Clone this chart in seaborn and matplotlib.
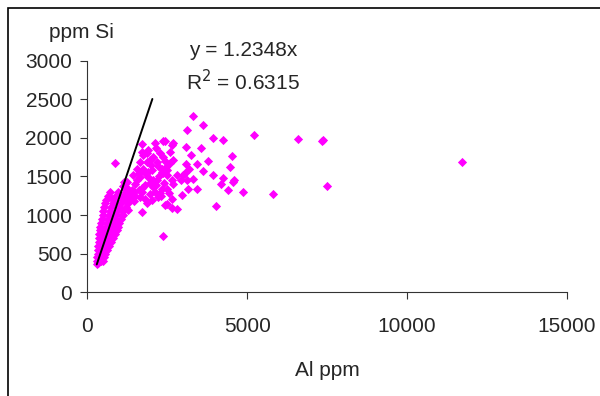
import matplotlib
matplotlib.use("Agg")
import matplotlib.pyplot as plt
from matplotlib.patches import Rectangle
import seaborn as sns
import pandas as pd

# scattered part of the cloud (Al ppm, Si ppm)
al_cloud = [11731, 6598, 7330, 7380, 5221, 7496, 5816, 3312, 3625, 3124,
            3919, 4232, 2416, 2686, 2645, 3083, 3543, 2582, 3240, 4523,
            2363, 2426, 2676, 2582, 3781, 3083, 3437, 3186, 4460, 2322,
            2479, 2373, 2498, 3625, 3052, 2999, 2792, 3312, 3919, 4232,
            2917, 3105, 2635, 2686, 4585, 4545, 4169, 3155, 3418, 4407,
            4858, 2498, 2560, 2269, 2948, 2635, 2479, 2635, 2792, 4022,
            2373, 1696, 2113, 2373, 1903, 2269, 1747, 2060, 1643, 1853,
            2166, 1540, 1747, 2009, 2322, 1434, 1643, 1903, 2166, 1227,
            1487, 1800, 2060, 2322, 1174, 1383, 1696, 1956, 2216, 1070,
            1277, 1800, 2009, 1643, 1277, 1715, 1120, 2426, 860, 704,
            914, 1850, 2150, 2000, 1600, 2250, 1950, 1700, 2400, 2100,
            1500, 1850, 2300, 1150, 1250, 1100, 1950, 2200, 1550, 1800,
            2050, 1350, 1600, 2450, 1700, 1900, 2150, 1450]
si_cloud = [1684, 1990, 1959, 1977, 2042, 1373, 1273, 2292, 2172, 2107,
            2003, 1972, 1959, 1939, 1913, 1882, 1869, 1817, 1774, 1761,
            1748, 1696, 1709, 1670, 1696, 1658, 1667, 1602, 1623, 1602,
            1580, 1545, 1524, 1567, 1545, 1515, 1515, 1472, 1515, 1485,
            1460, 1450, 1450, 1408, 1460, 1428, 1408, 1334, 1343, 1325,
            1299, 1343, 1286, 1286, 1256, 1213, 1140, 1097, 1084, 1114,
            725, 1926, 1933, 1959, 1839, 1804, 1774, 1752, 1687, 1687,
            1687, 1602, 1602, 1580, 1558, 1515, 1493, 1493, 1450, 1428,
            1408, 1386, 1364, 1343, 1343, 1321, 1299, 1278, 1234, 1234,
            1213, 1213, 1191, 1234, 1062, 1040, 997, 1127, 1675, 1234,
            1256, 1800, 1870, 1650, 1550, 1500, 1420, 1350, 1420, 1300,
            1250, 1150, 1250, 1430, 1350, 1380, 1720, 1640, 1460, 1540,
            1460, 1270, 1330, 1620, 1820, 1560, 1390, 1180]

# dense low band
al_band = [290, 330, 300, 360, 420, 470, 310, 380, 450, 520,
           320, 400, 480, 560, 330, 420, 520, 610, 340, 450, 560, 670,
           350, 470, 600, 730, 360, 500, 650, 790, 375, 530, 700, 850,
           385, 560, 740, 910, 400, 590, 780, 960, 420, 620, 820, 1000,
           440, 650, 860, 1040, 470, 680, 890, 1080, 500, 710, 920, 1120,
           530, 750, 980, 1190, 560, 800, 1040, 1270, 590, 840, 1100, 1340,
           630, 880, 1150, 1400, 720, 960, 1200, 1440]
si_band = [370, 380, 400, 400, 400, 400, 450, 450, 450, 450,
           500, 500, 500, 500, 550, 550, 550, 550, 600, 600, 600, 600,
           650, 650, 650, 650, 700, 700, 700, 700, 750, 750, 750, 750,
           800, 800, 800, 800, 850, 850, 850, 850, 900, 900, 900, 900,
           950, 950, 950, 950, 1000, 1000, 1000, 1000, 1050, 1050, 1050, 1050,
           1100, 1100, 1100, 1100, 1150, 1150, 1150, 1150, 1200, 1200, 1200, 1200,
           1250, 1250, 1250, 1250, 1300, 1300, 1300, 1300]

trend_x = [290, 2030]
slope = 1.2348
r2 = 0.6315

df = pd.DataFrame({'Al': al_band + al_cloud, 'Si': si_band + si_cloud})

sns.set_style('white')
plt.rcParams['font.family'] = ['Liberation Sans', 'DejaVu Sans']

fig = plt.figure(figsize=(6, 3.96), dpi=100)
ax = fig.add_axes([0.1458, 0.2626, 0.7992, 0.5834])

sns.scatterplot(data=df, x='Al', y='Si', marker='D', s=22, color='#FF00FF',
                linewidth=0, ax=ax, legend=False)
ax.plot(trend_x, [slope * v for v in trend_x], color='black', lw=1.4)

ax.set_xlim(0, 15000)
ax.set_ylim(0, 3000)
ax.set_xticks([0, 5000, 10000, 15000])
ax.set_yticks(range(0, 3001, 500))
ax.set_xlabel('Al ppm', fontsize=15, labelpad=18)
ax.set_ylabel('')
ax.tick_params(labelsize=15, length=5, width=0.8, color='#333333',
               direction='out', bottom=True, left=True)
ax.tick_params(axis='y', pad=6)
ax.tick_params(axis='x', pad=13)
for side in ['top', 'right']:
    ax.spines[side].set_visible(False)
for side in ['left', 'bottom']:
    ax.spines[side].set_color('#333333')
    ax.spines[side].set_linewidth(0.8)

fig.text(81 / 600, 1 - 33 / 396, 'ppm Si', fontsize=15, ha='center', va='center')
fig.text(243 / 600, 1 - 50 / 396, f'y = {slope}x', fontsize=15,
         ha='center', va='center')
fig.text(243 / 600, 1 - 82 / 396, f'R$^2$ = {r2}', fontsize=15,
         ha='center', va='center')

# chart area border (cut off at the right and bottom)
fig.patches.append(Rectangle((7.5 / 600, -0.1), 1.0, 1.1 - 7.5 / 396,
                             transform=fig.transFigure, fill=False,
                             edgecolor='black', lw=1.2))

fig.savefig('out.png', dpi=100)
